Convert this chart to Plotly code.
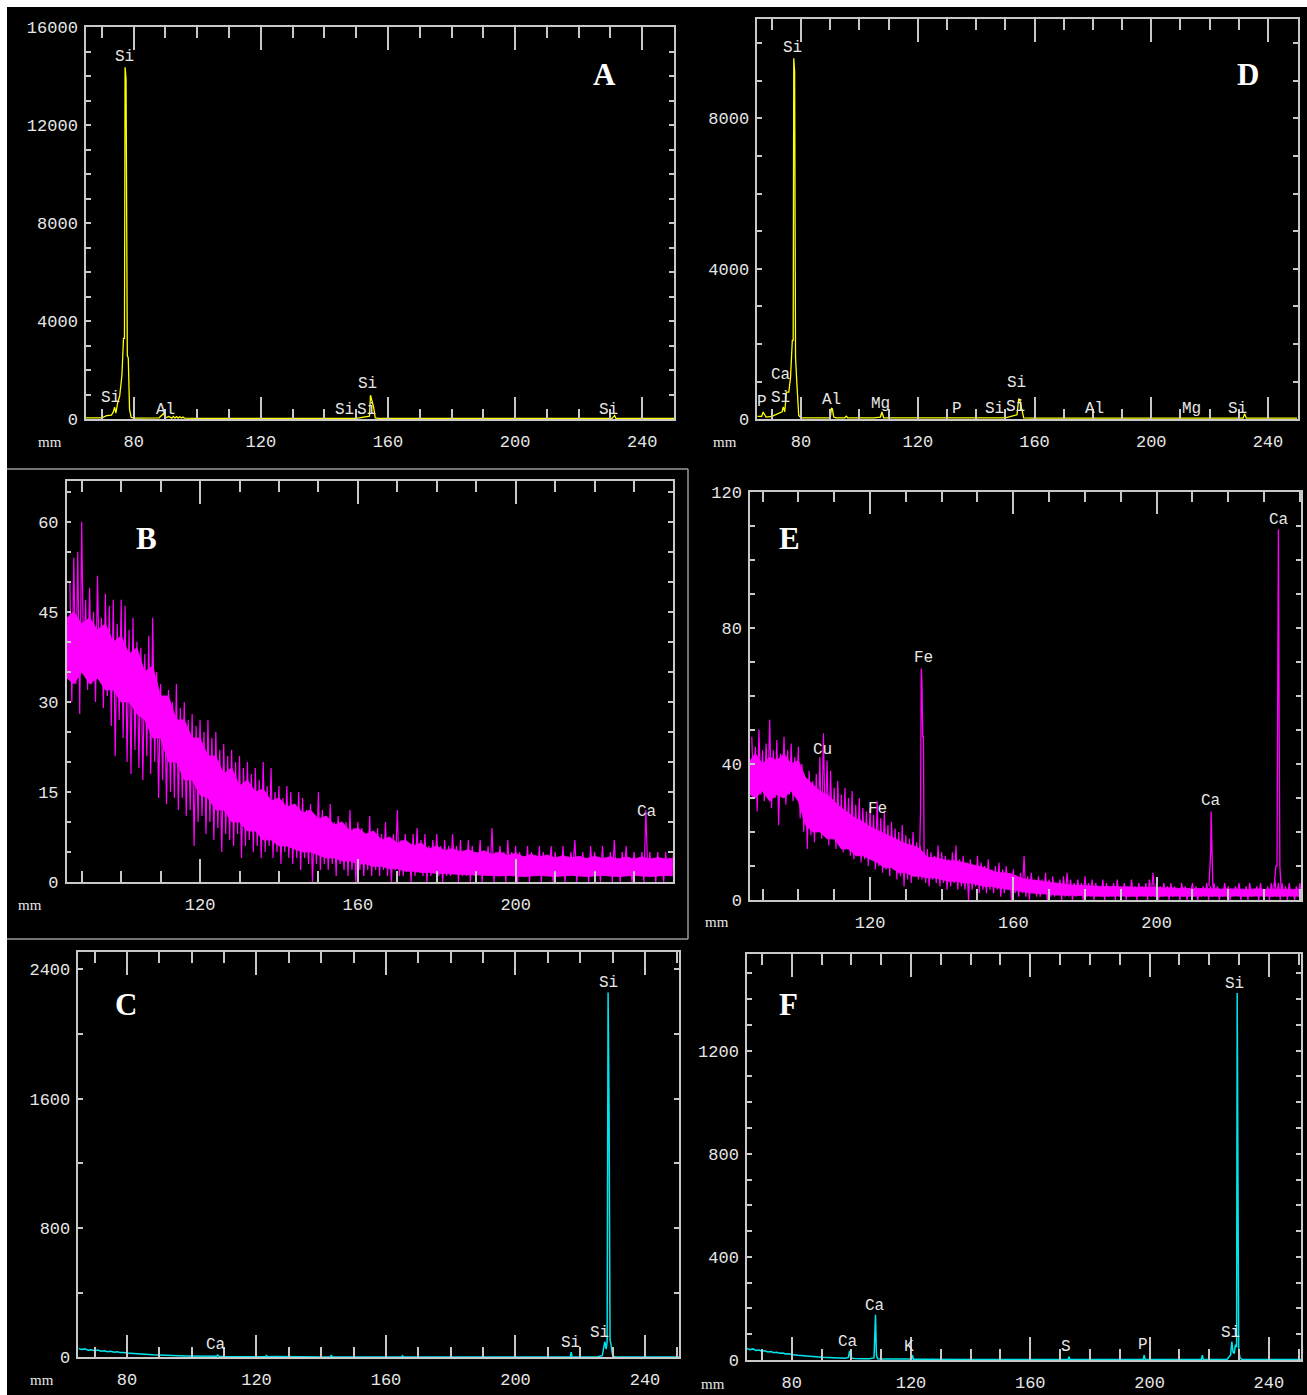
import plotly.graph_objects as go

W, H = 1307, 1395
YEL = "#ffff00"
MAG = "#ff00ff"
CYA = "#00e5ee"
AXC = "#c8c8c8"
TXC = "#e6e6e6"
MONO = "Liberation Mono"

# ---------------- Panel A (yellow) ----------------
A_x = [65, 68, 70, 71.5, 72, 73, 73.6, 74, 74.4, 75, 75.6, 76.3, 76.8, 77.1, 77.3, 77.6, 78.0, 78.3,
       78.7, 79.2, 80, 85, 88, 89.5, 89.8, 90.1, 91, 92, 92.5, 93, 93.5, 94, 94.5, 95, 95.5, 96, 100,
       150, 153.5, 154.2, 154.5, 155.0, 155.5, 156, 157, 180, 230.5, 231.3, 231.7, 232.5, 250]
A_y = [60, 60, 60, 150, 160, 170, 300, 500, 250, 700, 950, 1800, 3300, 3300, 14370, 13900, 2600, 2500,
       400, 80, 50, 50, 60, 250, 80, 60, 120, 50, 120, 50, 110, 50, 100, 50, 90, 50, 40,
       40, 120, 130, 980, 700, 500, 60, 40, 40, 40, 160, 40, 40, 40]
A_lab = ["Si", "Si", "Al", "Si", "Si", "Si", "Si"]
A_lab_x = [77.0, 72.6, 89.9, 146.2, 153.1, 153.7, 229.3]
A_lab_y = [14790, 870, 380, 380, 380, 1440, 380]
A_yticks = [0, 4000, 8000, 12000, 16000]

# ---------------- Panel D (yellow) ----------------
D_x = [65, 66.5, 67, 67.5, 68, 70, 72, 73.5, 73.9, 74.4, 75, 75.8, 76.4, 77.0, 77.3, 77.5, 77.8, 78.1,
       78.6, 79.2, 80, 85, 90, 90.4, 90.7, 91.2, 92, 95, 95.5, 96, 100, 105, 107.2, 107.7, 108.3, 110,
       150, 154.0, 154.6, 155.0, 155.6, 156.3, 160, 231.5, 232, 232.6, 250]
D_y = [80, 80, 195, 120, 60, 80, 150, 200, 330, 200, 720, 720, 1125, 2100, 2100, 9595, 9240, 1650,
       900, 100, 40, 40, 40, 290, 280, 60, 40, 40, 80, 40, 40, 40, 60, 195, 40, 40,
       40, 120, 550, 500, 300, 40, 30, 30, 150, 30, 30]
D_lab = ["Si", "Ca", "Si", "P", "Al", "Mg", "P", "Si", "Si", "Si", "Al", "Mg", "Si"]
D_lab_x = [77.2, 73.1, 72.9, 66.5, 90.4, 107.3, 133.3, 146.3, 153.5, 154.0, 180.4, 213.9, 229.4]
D_lab_y = [9877, 1178, 567, 468, 513, 407, 266, 274, 327, 958, 266, 274, 274]
D_yticks = [0, 4000, 8000]

# ---------------- Panel B (magenta) ----------------
B_start = 87
B_hi = [50, 54, 55, 60, 47, 49, 45, 51, 44, 48,
        46, 47, 43, 47, 46, 42, 44, 40, 39, 38,
        41, 44, 35, 33, 31, 32, 30, 33, 29, 30,
        27, 28, 26, 27, 25, 27, 24, 25, 22, 23,
        21, 22, 20, 21, 19, 20, 18, 19, 17, 20,
        16, 19, 15, 16, 14, 16, 15, 13, 15, 14,
        12, 13, 11, 15, 12, 11, 13, 10, 11, 9,
        10, 12, 9, 10, 9, 8, 11, 8, 9, 8,
        10, 7, 8, 12, 7, 8, 6, 8, 9, 7,
        8, 6, 7, 8, 6, 7, 6, 8, 6, 7,
        5, 7, 6, 5, 7, 5, 6, 9, 5, 6,
        5, 7, 5, 6, 5, 4, 6, 5, 4, 6,
        5, 4, 6, 5, 4, 6, 4, 5, 7, 4,
        5, 4, 6, 5, 4, 6, 4, 5, 7, 4,
        5, 6, 4, 5, 4, 5, 12, 5, 4, 5,
        4, 5, 4, 5]
B_lo = [30, 33, 28, 35, 32, 33, 30, 34, 29, 31,
        26, 21, 27, 24, 20, 18, 22, 19, 17, 21,
        18, 20, 14, 17, 13, 15, 14, 12, 14, 11,
        12, 6, 10, 11, 8, 10, 7, 9, 5, 8,
        7, 6, 8, 4, 6, 7, 5, 6, 4, 5,
        6, 4, 5, 3, 5, 4, 3, 4, 2, 4,
        3, 0, 3, 2, 3, 2, 3, 1, 3, 2,
        1, 2, 0, 2, 1, 2, 1, 2, 1, 2,
        1, 0, 2, 1, 1, 2, 0, 1, 2, 1,
        0, 1, 2, 1, 0, 1, 1, 2, 0, 1,
        1, 0, 1, 2, 0, 1, 1, 0, 1, 2,
        0, 1, 1, 0, 2, 1, 0, 1, 1, 0,
        1, 2, 0, 1, 1, 0, 1, 2, 0, 1,
        1, 0, 1, 2, 0, 1, 1, 0, 1, 0,
        1, 1, 0, 2, 1, 0, 1, 1, 0, 1,
        0, 1, 1, 0]
# dense core of the band, sampled every 2 mm from 88 to 240 (plus left edge)
B_core_x = [86.2] + list(range(88, 241, 2))
B_core_top = [44,
              45, 43, 44, 42, 43, 40, 41, 38, 39, 35,
              36, 31, 31, 27, 27, 24, 24, 21, 21, 18,
              19, 16, 17, 15, 15.5, 13.5, 14, 12.5, 13, 11.5,
              12, 10.5, 11, 9.5, 10, 8.5, 9, 8, 8.5, 7,
              7.5, 6.5, 7, 6, 6.5, 5.5, 6, 5.2, 5.6, 5,
              5.4, 4.8, 5.2, 4.6, 5, 4.4, 4.8, 4.2, 4.6, 4.2,
              4.5, 4, 4.4, 4, 4.3, 3.9, 4.3, 3.9, 4.2, 3.8,
              4.2, 3.8, 4.2, 3.8, 4.1, 3.8, 4]
B_core_bot = [34,
              33, 35, 33, 34, 32, 32, 30, 30, 28, 27,
              24, 24, 20, 20, 17, 17, 14.5, 14, 12, 12,
              10, 10, 8.5, 8.5, 7, 7, 6, 6, 5.5, 5,
              5, 4.5, 4, 4, 3.5, 3.5, 3, 3, 2.6, 2.6,
              2.2, 2.2, 1.8, 1.8, 1.6, 1.6, 1.4, 1.4, 1.3, 1.3,
              1.2, 1.2, 1.1, 1.1, 1, 1.1, 1, 0.9, 1, 1.1,
              1, 0.9, 1, 1.1, 1, 0.9, 1, 1.1, 1, 0.9,
              1, 1.1, 1, 0.9, 1, 1.1, 1]
B_lab = ["Ca"]
B_lab_x = [233.4]
B_lab_y = [11.7]
B_yticks = [0, 15, 30, 45, 60]

# ---------------- Panel E (magenta) ----------------
E_start = 87
E_hi = [48, 45, 50, 44, 46, 53, 44, 47, 43, 48,
        44, 46, 42, 45, 40, 36, 38, 35, 37, 42,
        49, 41, 38, 33, 35, 31, 33, 30, 32, 28,
        30, 27, 26, 27, 25, 29, 24, 26, 22, 23,
        21, 20, 22, 19, 18, 20, 17, 16, 14, 15,
        14, 13, 16, 14, 13, 12, 14, 16, 12, 13,
        11, 12, 10, 13, 11, 10, 12, 9, 10, 11,
        9, 10, 8, 9, 7, 8, 13, 7, 8, 6,
        7, 6, 8, 6, 7, 5, 6, 7, 8, 6,
        5, 6, 5, 7, 5, 6, 5, 4, 6, 5,
        4, 5, 6, 4, 5, 4, 6, 4, 5, 4,
        5, 6, 8, 5, 4, 5, 4, 5, 4, 3,
        5, 4, 3, 5, 4, 3, 4, 5, 4, 5,
        4, 3, 5, 4, 3, 4, 5, 3, 4, 5,
        3, 4, 5, 3, 4, 5, 6, 5, 5, 4,
        5, 3, 4, 5]
E_lo = [30, 26, 31, 29, 32, 27, 30, 22, 30, 28,
        31, 29, 30, 24, 20, 15, 19, 17, 20, 18,
        21, 16, 18, 15, 17, 14, 16, 13, 12, 14,
        11, 12, 10, 12, 9, 10, 8, 9, 7, 9,
        6, 7, 4, 6, 5, 7, 6, 6, 5, 4,
        6, 5, 4, 5, 3, 4, 5, 3, 4, 3,
        0, 3, 4, 2, 3, 2, 3, 2, 3, 1,
        2, 3, 0, 2, 1, 2, 1, 0, 2, 1,
        1, 2, 0, 1, 1, 2, 0, 1, 1, 0,
        1, 2, 0, 1, 1, 0, 2, 1, 0, 1,
        1, 0, 1, 2, 0, 1, 1, 0, 2, 1,
        0, 1, 1, 0, 1, 2, 0, 1, 1, 0,
        1, 0, 2, 1, 0, 1, 1, 0, 1, 2,
        0, 1, 1, 0, 1, 2, 0, 1, 0, 1,
        2, 0, 1, 1, 0, 1, 1, 0, 1, 0,
        1, 0, 1, 1]
E_core_x = [86.5] + list(range(88, 241, 2))
E_core_top = [41,
              43, 40, 42, 41, 43, 40, 41, 36, 34, 32,
              31, 29, 27, 25.5, 24, 23, 21.5, 20.5, 19.5, 18.5,
              17.5, 16.5, 16, 15, 12.5, 12.5, 12, 11.5, 11.5, 11,
              10.5, 10, 9.5, 8.5, 8, 8, 7.5, 6.5, 6, 5.8,
              5.5, 5.2, 5, 4.6, 4.4, 4.3, 4.2, 4, 4.1, 3.9,
              4, 3.8, 3.9, 3.7, 3.8, 3.6, 3.8, 3.5, 3.6, 3.4,
              3.5, 3.3, 3.4, 3.3, 3.4, 3.2, 3.3, 3.2, 3.3, 3.1,
              3.3, 3.1, 3.2, 3.1, 3.2, 3.1, 3.2]
E_core_bot = [31,
              30, 32, 29, 31, 30, 32, 29, 22, 20, 20,
              18, 18, 15, 15, 13, 13, 12, 11, 9.5, 9.5,
              8, 8, 7, 7, 6.5, 6.5, 6, 5.5, 5.5, 5,
              5, 4.5, 4, 4, 3.5, 3.2, 3, 2.6, 2.2, 2,
              1.8, 1.6, 1.5, 1.4, 1.3, 1.3, 1.2, 1.2, 1.1, 1.2,
              1.1, 1.2, 1.1, 1.2, 1.1, 1.2, 1.1, 1.2, 1.1, 1.2,
              1.1, 1.2, 1.1, 1.2, 1.1, 1.2, 1.1, 1.2, 1.1, 1.2,
              1.1, 1.2, 1.1, 1.2, 1.1, 1.2, 1.1]
E_fe_x = [133.8, 134.1, 134.3, 134.5, 134.7, 134.9, 135.1, 135.4]
E_fe_y = [12, 26, 68, 64, 48, 48, 12, 9]
E_ca1_x = [214.6, 214.9, 215.1, 215.2, 215.4, 215.7]
E_ca1_y = [4, 14, 14, 26, 14, 4]
E_ca2_x = [232.8, 233.3, 233.6, 233.8, 234.0, 234.2, 234.4, 234.8]
E_ca2_y = [4, 10, 10, 102, 109, 52, 10, 3]
E_lab = ["Cu", "Fe", "Fe", "Ca", "Ca"]
E_lab_x = [106.8, 122.2, 135.05, 215.1, 234.1]
E_lab_y = [44, 26.8, 71, 29, 111.6]
E_yticks = [0, 40, 80, 120]

# ---------------- Panel C (cyan) ----------------
C_x = [65, 66, 67, 68, 69, 70, 71, 72, 73, 74, 75, 76, 77, 78, 79, 80,
       82, 84, 86, 88, 90, 92, 94, 96, 98, 100, 102, 104, 106,
       107.6, 108.0, 108.4, 110, 112, 114, 116, 118, 120, 122,
       122.8, 123.1, 123.4, 126, 130, 140, 142.8, 143.1, 143.4, 150, 160,
       164.8, 165.1, 165.4, 180, 200, 215, 216.9, 217.2, 217.5, 219, 225,
       226.8, 227.2, 227.6, 228.0, 228.3, 228.6, 228.9, 229.2, 229.5, 229.9, 230.4,
       231, 235, 250.5]
C_y = [55, 48, 52, 44, 47, 41, 45, 38, 40, 35, 37, 32, 34, 29, 30, 26,
       24, 20, 19, 15, 14, 11, 12, 9, 8, 7, 8, 6, 6,
       6, 14, 6, 5, 4, 6, 4, 3, 4, 3,
       3, 14, 3, 5, 3, 2, 2, 14, 2, 2, 2,
       2, 10, 2, 2, 2, 2, 2, 32, 2, 2, 2,
       10, 60, 97, 50, 95, 2257, 1541, 107, 80, 20, 5,
       2, 2, 2]
C_lab = ["Si", "Ca", "Si", "Si"]
C_lab_x = [228.6, 107.5, 217.1, 225.8]
C_lab_y = [2315, 76, 88, 150]
C_yticks = [0, 800, 1600, 2400]

# ---------------- Panel F (cyan) ----------------
F_x = [65, 66, 67, 68, 69, 70, 71, 72, 73, 74, 75, 76, 77, 78, 79, 80,
       82, 84, 86, 88, 90, 92, 94, 96, 98, 99.0, 99.4, 99.8, 101, 104, 106,
       107.6, 107.9, 108.1, 108.4, 108.8, 110, 114, 118, 120.2, 120.5, 120.8,
       124, 130, 140, 150, 160, 172.7, 173.0, 173.3, 180, 190, 197.9, 198.2, 198.5,
       205, 215, 217.4, 217.7, 218.0, 222, 226,
       227.2, 227.6, 228.0, 228.4, 228.8, 229.2, 229.4, 229.6, 229.9, 230.3,
       231, 235, 251]
F_y = [45, 40, 43, 37, 39, 34, 36, 31, 33, 28, 30, 26, 27, 23, 24, 21,
       18, 17, 14, 13, 11, 10, 9, 8, 7, 10, 35, 8, 6, 5, 5,
       8, 130, 175, 20, 5, 4, 4, 3, 4, 19, 3,
       3, 2, 2, 2, 2, 2, 13, 2, 2, 2, 2, 19, 2,
       2, 2, 2, 19, 2, 2, 2,
       20, 71, 30, 25, 60, 50, 1424, 930, 40, 10,
       2, 2, 2]
F_lab = ["Si", "Ca", "Ca", "K", "S", "P", "Si"]
F_lab_x = [228.6, 98.9, 107.9, 119.4, 172.0, 197.7, 227.0]
F_lab_y = [1459, 69, 210, 52, 51, 58, 106]
F_yticks = [0, 400, 800, 1200]

X_WIDE = [80, 120, 160, 200, 240]
X_NARROW = [120, 160, 200]

# panel boxes in pixels: left, top, right, bottom
panels = [
    ("A", (86, 27.3, 674, 419.3), [65, 250], [0, 16000], X_WIDE, A_yticks, 1000),
    ("D", (757.3, 19, 1298, 419.3), [65, 250.3], [0, 10640], X_WIDE, D_yticks, 1000),
    ("B", (66.7, 481, 672.7, 882), [86.2, 239.8], [0, 66.8], X_NARROW, B_yticks, 5),
    ("E", (750, 491.7, 1301, 900), [86.5, 240.3], [0, 120], X_NARROW, E_yticks, 10),
    ("C", (78.4, 952.3, 679, 1357.3), [65, 250.5], [0, 2505], X_WIDE, C_yticks, 400),
    ("F", (747, 954, 1301, 1360), [65, 250.8], [0, 1575], X_WIDE, F_yticks, 100),
]

fig = go.Figure()
layout = {}
for i, (name, box, xr, yr, xt, yt, ymin) in enumerate(panels):
    n = "" if i == 0 else str(i + 1)
    l, t, r, b = box
    layout["xaxis" + n] = dict(
        domain=[l / W, r / W], range=xr, anchor="y" + n, automargin=False,
        showline=True, linecolor=AXC, linewidth=1.5, mirror="allticks",
        ticks="inside", ticklen=23, tickwidth=1.5, tickcolor=AXC,
        tickmode="array", tickvals=xt, ticktext=[str(v) for v in xt],
        tickfont=dict(family=MONO, size=17, color=TXC),
        ticklabelstandoff=6,
        showgrid=False, zeroline=False, fixedrange=True,
        minor=dict(ticks="inside", ticklen=11, tickwidth=1.5, tickcolor=AXC,
                   tickmode="linear", tick0=0, dtick=10, showgrid=False),
    )
    layout["yaxis" + n] = dict(
        domain=[1 - b / H, 1 - t / H], range=yr, anchor="x" + n, automargin=False,
        showline=True, linecolor=AXC, linewidth=1.5, mirror="allticks",
        ticks="inside", ticklen=5, tickwidth=1.5, tickcolor=AXC,
        tickmode="array", tickvals=yt, ticktext=[str(v) for v in yt],
        tickfont=dict(family=MONO, size=17, color=TXC),
        ticklabelstandoff=3,
        showgrid=False, zeroline=False, fixedrange=True,
        minor=dict(ticks="inside", ticklen=5, tickwidth=1.5, tickcolor=AXC,
                   tickmode="linear", tick0=0, dtick=ymin, showgrid=False),
    )


def zigzag(start, hi, lo):
    n = min(len(hi), len(lo))
    xs, ys = [], []
    for k in range(n):
        xs += [start + k, start + k + 0.5]
        ys += [hi[k], lo[k]]
    return xs, ys


def line(x, y, color, ax, width=1.3):
    fig.add_trace(go.Scatter(x=x, y=y, mode="lines", line=dict(color=color, width=width),
                             xaxis="x" + ax, yaxis="y" + ax, hoverinfo="skip", showlegend=False))


def band(cx, top, bot, color, ax):
    n = min(len(cx), len(top), len(bot))
    cx, top, bot = list(cx)[:n], list(top)[:n], list(bot)[:n]
    fig.add_trace(go.Scatter(x=cx + cx[::-1], y=top + bot[::-1],
                             mode="lines", fill="toself", fillcolor=color, line=dict(width=0.8, color=color),
                             xaxis="x" + ax, yaxis="y" + ax, hoverinfo="skip", showlegend=False))


line(A_x, A_y, YEL, "")
line(D_x, D_y, YEL, "2")
band(B_core_x, B_core_top, B_core_bot, MAG, "3")
bx, by = zigzag(B_start, B_hi, B_lo)
line(bx, by, MAG, "3", 1.2)
band(E_core_x, E_core_top, E_core_bot, MAG, "4")
ex, ey = zigzag(E_start, E_hi, E_lo)
line(ex, ey, MAG, "4", 1.2)
line(E_fe_x, E_fe_y, MAG, "4", 1.3)
line(E_ca1_x, E_ca1_y, MAG, "4", 1.3)
line(E_ca2_x, E_ca2_y, MAG, "4", 1.3)
line(C_x, C_y, CYA, "5", 1.5)
line(F_x, F_y, CYA, "6", 1.5)

annotations = []
lab_sets = [("", A_lab, A_lab_x, A_lab_y), ("2", D_lab, D_lab_x, D_lab_y),
            ("3", B_lab, B_lab_x, B_lab_y), ("4", E_lab, E_lab_x, E_lab_y),
            ("5", C_lab, C_lab_x, C_lab_y), ("6", F_lab, F_lab_x, F_lab_y)]
for ax, labs, lx, ly in lab_sets:
    for s, x, y in zip(labs, lx, ly):
        annotations.append(dict(text=s, x=x, y=y, xref="x" + ax, yref="y" + ax,
                                showarrow=False, xanchor="center", yanchor="middle",
                                font=dict(family=MONO, size=16, color=TXC)))

letters = [("A", 604, 75), ("D", 1248, 75), ("B", 146, 538), ("E", 789, 538), ("C", 126, 1004), ("F", 788, 1004)]
for s, px, py in letters:
    annotations.append(dict(text="<b>%s</b>" % s, x=px / W, y=1 - py / H, xref="paper", yref="paper",
                            showarrow=False, xanchor="center", yanchor="middle",
                            font=dict(family="Liberation Serif", size=31, color="white")))
mms = [(50, 442), (725, 442), (30, 905), (717, 922), (42, 1380), (713, 1384)]
for px, py in mms:
    annotations.append(dict(text="mm", x=px / W, y=1 - py / H, xref="paper", yref="paper",
                            showarrow=False, xanchor="center", yanchor="middle",
                            font=dict(family="Liberation Serif", size=15, color=TXC)))

shapes = [
    dict(type="rect", xref="paper", yref="paper", x0=7 / W, x1=1, y0=0, y1=1 - 7 / H,
         fillcolor="black", line=dict(width=0), layer="below"),
    dict(type="line", xref="paper", yref="paper", x0=7 / W, x1=688 / W, y0=1 - 469 / H, y1=1 - 469 / H,
         line=dict(color="#9a9a9a", width=1.5)),
    dict(type="line", xref="paper", yref="paper", x0=688 / W, x1=688 / W, y0=1 - 469 / H, y1=1 - 939 / H,
         line=dict(color="#9a9a9a", width=1.5)),
    dict(type="line", xref="paper", yref="paper", x0=7 / W, x1=688 / W, y0=1 - 939 / H, y1=1 - 939 / H,
         line=dict(color="#9a9a9a", width=1.5)),
]

fig.update_layout(
    width=W, height=H, margin=dict(l=0, r=0, t=0, b=0, pad=0), autosize=False,
    paper_bgcolor="white", plot_bgcolor="black",
    showlegend=False, annotations=annotations, shapes=shapes,
    **layout,
)

POST = "document.body.style.margin='0';document.documentElement.style.overflow='hidden';"
fig.write_html("out.html", config={"displayModeBar": False}, post_script=POST)
